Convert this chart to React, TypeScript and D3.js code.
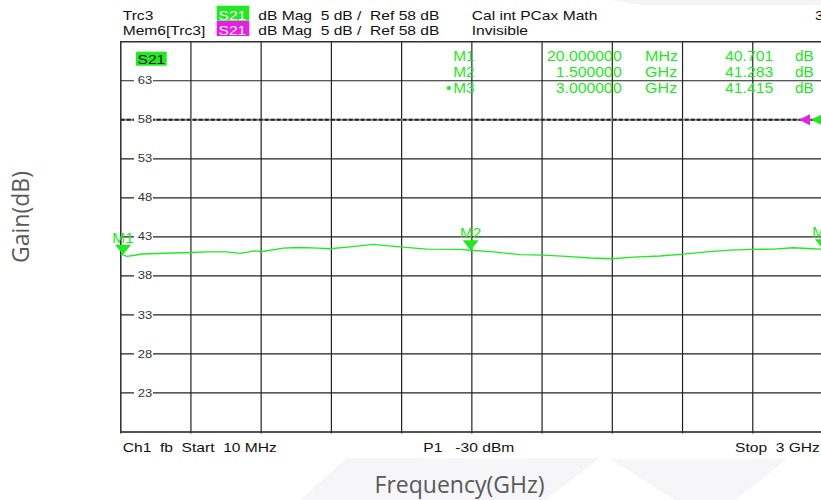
import React from 'react';
import * as d3 from 'd3';

// trace Trc3 S21, frequency in GHz, gain in dB
const freqGHz = [0.01, 0.02, 0.036, 0.07, 0.099, 0.2, 0.312, 0.376, 0.461, 0.518, 0.582, 0.609, 0.702, 0.773, 0.85, 0.901, 0.986, 1.085, 1.199, 1.313, 1.454, 1.5, 1.596, 1.71, 1.807, 1.909, 2.008, 2.103, 2.192, 2.306, 2.404, 2.505, 2.604, 2.701, 2.788, 2.873, 2.936, 3.0];
const gainDb = [40.75, 40.7, 40.5, 40.65, 40.8, 40.9, 41.0, 41.08, 41.08, 40.88, 41.2, 41.1, 41.55, 41.64, 41.55, 41.47, 41.72, 42.03, 41.72, 41.43, 41.39, 41.28, 41.08, 40.72, 40.66, 40.5, 40.3, 40.2, 40.4, 40.55, 40.79, 41.08, 41.3, 41.39, 41.43, 41.6, 41.5, 41.415];

// markers
const markerNames = ['M1', 'M2', 'M3'];
const markerFreqGHz = [0.02, 1.5, 3.0];
const markerGainDb = [40.701, 41.283, 41.415];
const markerStim = ['20.000000', '1.500000', '3.000000'];
const markerUnit = ['MHz', 'GHz', 'GHz'];

const yTicks = [23, 28, 33, 38, 43, 48, 53, 58, 63];
const refLevel = 58;

const W = 821;
const H = 500;
const X0 = 120.7, X1 = 823, Y0 = 41.7, Y1 = 432;
const GREEN = '#22ea22';
const MAGENTA = '#e81ee8';
const INST = 'Liberation Sans, Arial, sans-serif';

const x = d3.scaleLinear().domain([0.01, 3]).range([X0, X1]);
const y = d3.scaleLinear().domain([18, 68]).range([Y1, Y0]);

// stretched instrument text
const T = ({ x, y, s = 12, sx = 1.3, a = 'start', fill = '#111', children }: any) => (
  <text
    transform={`translate(${x},${y}) scale(${sx},1)`}
    fontSize={s}
    fontFamily={INST}
    textAnchor={a}
    fill={fill}
    style={{ whiteSpace: 'pre' }}
  >
    {children}
  </text>
);

export default function App() {
  const xDivs = d3.range(11).map(i => 0.01 + (i * 2.99) / 10);
  const yLines = d3.range(18, 69, 5);
  const line = d3.line<number>().x((_, i) => x(freqGHz[i])).y(d => y(d));

  return (
    <svg width={W} height={H} style={{ position: 'absolute', left: 0, top: 0, background: '#fff' }}>
      {/* faint watermark */}
      <polygon points="610,0 821,0 821,5 640,5" fill="#f5f5f8" />
      <polygon points="347,458 600,458 545,500 300,500" fill="#f6f6f8" />
      <polygon points="610,459 787,459 735,500 675,500" fill="#f6f6f8" />

      {/* header */}
      <T x={122.7} y={19.5}>Trc3</T>
      <rect x={216.7} y={5.7} width={32.6} height={15} fill={GREEN} />
      <T x={218.5} y={19.5} fill="#fff">S21</T>
      <T x={258.3} y={19.5}>{'dB Mag  5 dB /  Ref 58 dB'}</T>
      <T x={471.7} y={19.5}>Cal int PCax Math</T>
      <T x={815} y={19.5}>3</T>

      <T x={122.7} y={35}>Mem6[Trc3]</T>
      <rect x={216.7} y={21} width={32.6} height={15} fill={MAGENTA} />
      <T x={218.5} y={35} fill="#fff">S21</T>
      <T x={258.3} y={35}>{'dB Mag  5 dB /  Ref 58 dB'}</T>
      <T x={471.7} y={35}>Invisible</T>

      {/* grid */}
      {xDivs.map((d, i) => (
        <line key={'v' + i} x1={x(d)} x2={x(d)} y1={Y0} y2={Y1 + 1.5} stroke="#222" strokeWidth={1.2} />
      ))}
      {yLines.map(v => (
        <line key={'h' + v} x1={X0} x2={X1} y1={y(v)} y2={y(v)}
          stroke={v === refLevel ? '#888' : '#222'} strokeWidth={v === refLevel ? 2 : 1.2} />
      ))}
      <line x1={X0} x2={X1} y1={y(refLevel)} y2={y(refLevel)} stroke="#222" strokeWidth={2} strokeDasharray="4,2" />
      <rect x={X0} y={Y0} width={X1 - X0} height={Y1 - Y0} fill="none" stroke="#333" strokeWidth={1.3} />

      {/* y tick labels */}
      {yTicks.map(v => (
        <g key={'t' + v}>
          <rect x={134} y={y(v) - 4} width={19} height={8} fill="#fff" />
          <T x={145} y={y(v) + 3.6} s={10} a="middle" fill="#333">{v}</T>
        </g>
      ))}

      <rect x={136} y={51.7} width={30.7} height={14} fill={GREEN} />
      <T x={137.5} y={63.5}>S21</T>

      {/* marker table */}
      {markerNames.map((m, i) => {
        const by = 60.7 + i * 16.2;
        return (
          <g key={'r' + m}>
            {i === 2 && <T x={446} y={by} s={14} sx={1.1} fill={GREEN}>•</T>}
            <T x={453.3} y={by} s={14} sx={1.1} fill={GREEN}>{m}</T>
            <T x={621.7} y={by} s={14} sx={1.13} a="end" fill={GREEN}>{markerStim[i]}</T>
            <T x={645} y={by} s={14} sx={1.15} fill={GREEN}>{markerUnit[i]}</T>
            <T x={773.3} y={by} s={14} sx={1.13} a="end" fill={GREEN}>{markerGainDb[i].toFixed(3)}</T>
            <T x={795} y={by} s={14} sx={1.1} fill={GREEN}>dB</T>
          </g>
        );
      })}

      {/* reference level arrows */}
      <path d={`M799,${y(refLevel)} l11,-5.5 v11 z`} fill={MAGENTA} />
      <path d={`M811,${y(refLevel)} l11,-5.5 v11 z`} fill={GREEN} />

      {/* trace */}
      <path d={line(gainDb) || ''} fill="none" stroke={GREEN} strokeWidth={1.4} />

      {/* markers */}
      {markerNames.map((m, i) => {
        const mx = x(markerFreqGHz[i]);
        const my = y(markerGainDb[i]);
        return (
          <g key={'m' + m}>
            <path d={`M${mx},${my} l-8,-10 h16 z`} fill={GREEN} />
            <T x={mx} y={my - 12} s={14} sx={1.1} a="middle" fill={GREEN}>{m}</T>
          </g>
        );
      })}

      {/* footer */}
      <T x={122.7} y={451.7}>{'Ch1  fb  Start  10 MHz'}</T>
      <T x={423.3} y={451.7}>{'P1   -30 dBm'}</T>
      <T x={735} y={451.7}>{'Stop  3 GHz'}</T>

      {/* axis titles */}
      <text transform="translate(29,217) rotate(-90)" textAnchor="middle" fontFamily="Open Sans, sans-serif"
        fontSize={23} fill="#595959">Gain(dB)</text>
      <text x={459.5} y={493} textAnchor="middle" fontFamily="Open Sans, sans-serif" fontSize={23}
        fill="#595959">Frequency(GHz)</text>
    </svg>
  );
}
